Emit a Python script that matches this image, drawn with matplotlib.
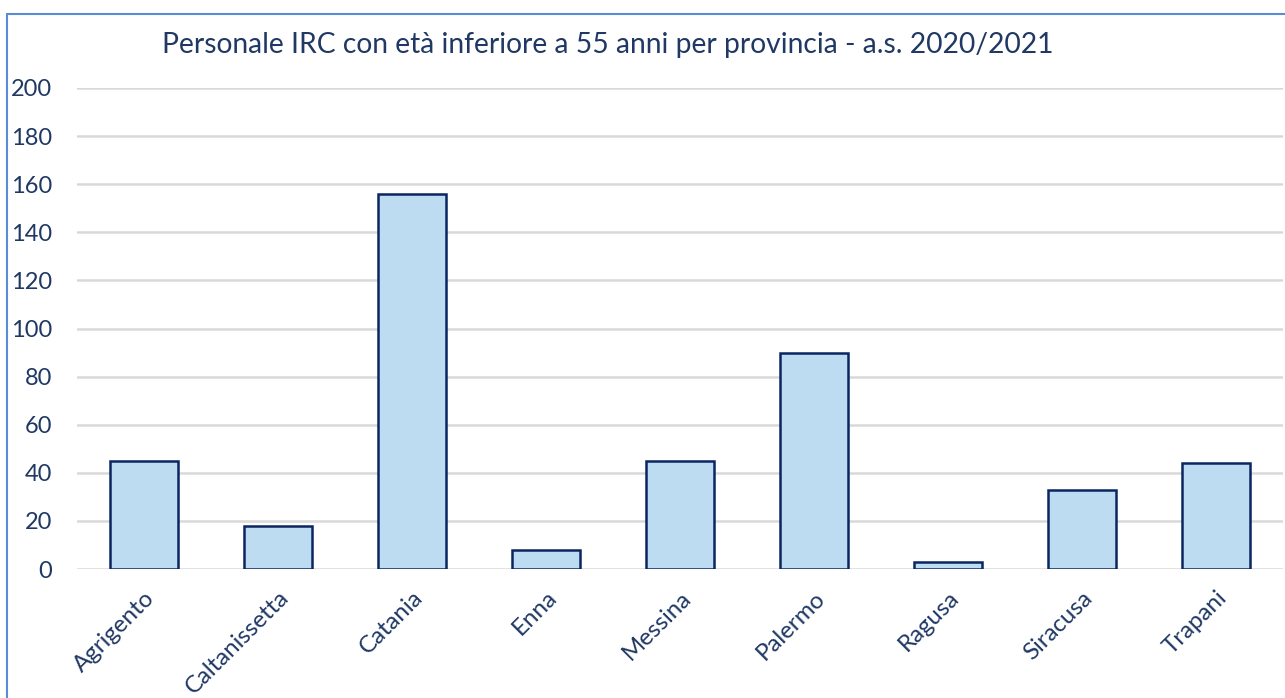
import matplotlib
matplotlib.use('Agg')
import matplotlib.pyplot as plt
from matplotlib.patches import Rectangle

# data
province = ['Agrigento', 'Caltanissetta', 'Catania', 'Enna', 'Messina',
            'Palermo', 'Ragusa', 'Siracusa', 'Trapani']
personale = [45, 18, 156, 8, 45, 90, 3, 33, 44]
y_ticks = [0, 20, 40, 60, 80, 100, 120, 140, 160, 180, 200]
title = 'Personale IRC con età inferiore a 55 anni per provincia - a.s. 2020/2021'

text_col = '#1F3864'
plt.rcParams['font.family'] = ['Lato', 'DejaVu Sans']

fig = plt.figure(figsize=(12.85, 6.98), dpi=100)
ax = fig.add_axes([77 / 1285, 1 - 569 / 698, 1206 / 1285, 481 / 698])

x = range(len(province))
ax.bar(x, personale, width=0.51, color='#BDDCF2', edgecolor='#0B2560', linewidth=1.8, zorder=3)

ax.set_xlim(-0.5, len(province) - 0.5)
ax.set_ylim(0, 200)
ax.set_yticks(y_ticks)
ax.set_yticklabels([str(v) for v in y_ticks], fontsize=17, color=text_col)
ax.set_xticks(list(x))
ax.set_xticklabels(province, rotation=45, ha='right', rotation_mode='anchor',
                   fontsize=17.3, color=text_col)
ax.tick_params(axis='y', length=0, pad=18)
ax.tick_params(axis='x', length=0, pad=13)
ax.grid(axis='y', color='#D9D9D9', linewidth=1.8, zorder=0)
for s in ax.spines.values():
    s.set_visible(False)

fig.text(608 / 1285, 1 - 45 / 698, title, ha='center', va='center',
         fontsize=20.3, color=text_col)

# chart frame
fig.patches.append(Rectangle((7 / 1285, -0.05), 1.1, 1 - 14 / 698 + 0.05,
                             transform=fig.transFigure, fill=False,
                             edgecolor='#5B8BD6', linewidth=1.5))

plt.savefig('out.png', dpi=100)
